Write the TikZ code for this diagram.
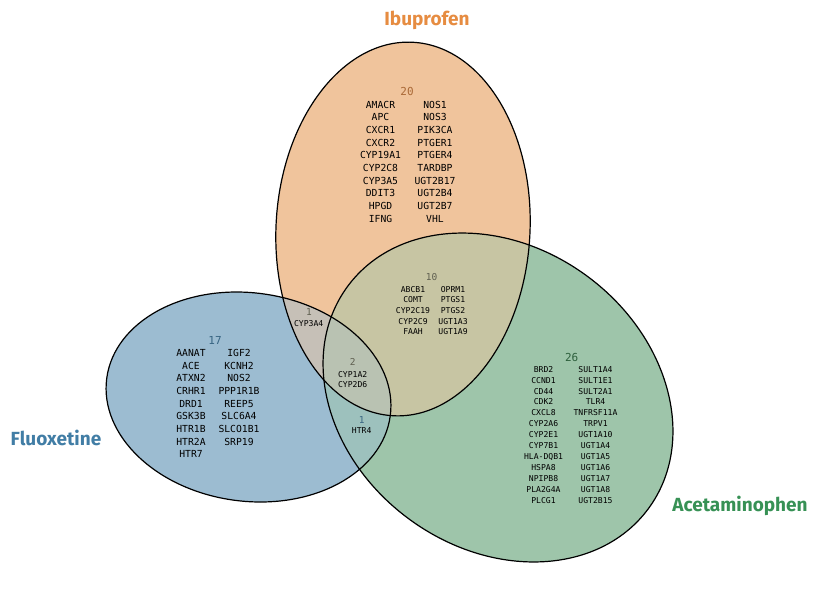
\documentclass[tikz,border=0pt]{standalone}
\usepackage{fontspec}
\setmainfont{Fira Sans}
\setmonofont{DejaVu Sans Mono}

\definecolor{ibuFill}{RGB}{240,196,156}
\definecolor{fluFill}{RGB}{156,188,209}
\definecolor{aceFill}{RGB}{158,197,170}
\colorlet{ibufluFill}{ibuFill!50!fluFill}
\colorlet{ibuaceFill}{ibuFill!50!aceFill}
\colorlet{fluaceFill}{fluFill!50!aceFill}
\colorlet{allFill}{ibufluFill!67!aceFill}
\definecolor{ibuText}{RGB}{230,140,65}
\definecolor{fluText}{RGB}{65,125,165}
\definecolor{aceText}{RGB}{55,145,85}
\definecolor{ibuNum}{RGB}{170,105,55}
\definecolor{fluNum}{RGB}{55,100,130}
\definecolor{aceNum}{RGB}{45,95,60}
\definecolor{midNum}{RGB}{95,95,80}

\newcommand{\ibuPath}{(403,229) circle [x radius=127pt, y radius=187pt, rotate=-3]}
\newcommand{\fluPath}{(248.5,397) circle [x radius=143pt, y radius=104.2pt, rotate=-7.5]}
\newcommand{\acePath}{(498,397.5) circle [x radius=187pt, y radius=150.6pt, rotate=-36.6]}

\begin{document}
\begin{tikzpicture}[x=1pt,y=-1pt,
	genes/.style={font=\ttfamily\fontsize{9.7}{12.67}\selectfont, align=center, inner sep=0pt, anchor=north},
	genesSmall/.style={font=\ttfamily\fontsize{8.1}{#1}\selectfont, align=center, inner sep=0pt, anchor=north},
	genesSmall/.default=10.6,
	numBig/.style={font=\ttfamily\fontsize{11}{11}\selectfont, inner sep=0pt},
	numSmall/.style={font=\ttfamily\fontsize{9.5}{9.5}\selectfont, inner sep=0pt},
	setName/.style={font=\bfseries\fontsize{19}{19}\selectfont, inner sep=0pt}]
	\useasboundingbox (0,0) rectangle (818,600);
	
	%ZONES
	\fill[ibuFill] \ibuPath;
	\fill[fluFill] \fluPath;
	\fill[aceFill] \acePath;
	\begin{scope}
		\clip \ibuPath;
		\fill[ibufluFill] \fluPath;
		\fill[ibuaceFill] \acePath;
	\end{scope}
	\begin{scope}
		\clip \fluPath;
		\fill[fluaceFill] \acePath;
	\end{scope}
	\begin{scope}
		\clip \ibuPath;
		\clip \fluPath;
		\fill[allFill] \acePath;
	\end{scope}
	%CONTOURS
	\draw[line width=1.2pt] \ibuPath;
	\draw[line width=1.2pt] \fluPath;
	\draw[line width=1.2pt] \acePath;
	
	%NOMS
	\node[setName, text=ibuText] (ibu) at (427,20) {Ibuprofen};
	\node[setName, text=fluText] (flu) at (56,438) {Fluoxetine};
	\node[setName, text=aceText] (ace) at (740,506) {Acetaminophen};
	
	%IBUPROFEN SEUL
	\node[numBig, text=ibuNum] (n20) at (407,91) {20};
	\node[genes] (ibuL) at (380.5,100.8) {AMACR\\APC\\CXCR1\\CXCR2\\CYP19A1\\CYP2C8\\CYP3A5\\DDIT3\\HPGD\\IFNG};
	\node[genes] (ibuR) at (435,100.8) {NOS1\\NOS3\\PIK3CA\\PTGER1\\PTGER4\\TARDBP\\UGT2B17\\UGT2B4\\UGT2B7\\VHL};
	%FLUOXETINE SEUL
	\node[numBig, text=fluNum] (n17) at (215,340) {17};
	\node[genes] (fluL) at (191,349.2) {AANAT\\ACE\\ATXN2\\CRHR1\\DRD1\\GSK3B\\HTR1B\\HTR2A\\HTR7};
	\node[genes] (fluR) at (239,349.2) {IGF2\\KCNH2\\NOS2\\PPP1R1B\\REEP5\\SLC6A4\\SLCO1B1\\SRP19};
	%ACETAMINOPHEN SEUL
	\node[numBig, text=aceNum] (n26) at (571.7,357.7) {26};
	\node[genesSmall=10.9] (aceL) at (543.5,366) {BRD2\\CCND1\\CD44\\CDK2\\CXCL8\\CYP2A6\\CYP2E1\\CYP7B1\\HLA-DQB1\\HSPA8\\NPIPB8\\PLA2G4A\\PLCG1};
	\node[genesSmall=10.9] (aceR) at (595.5,366) {SULT1A4\\SULT1E1\\SULT2A1\\TLR4\\TNFRSF11A\\TRPV1\\UGT1A10\\UGT1A4\\UGT1A5\\UGT1A6\\UGT1A7\\UGT1A8\\UGT2B15};
	%IBUPROFEN ET ACETAMINOPHEN
	\node[numSmall, text=midNum] (n10) at (431.7,276.7) {10};
	\node[genesSmall] (iaL) at (413,286) {ABCB1\\COMT\\CYP2C19\\CYP2C9\\FAAH};
	\node[genesSmall] (iaR) at (453,286) {OPRM1\\PTGS1\\PTGS2\\UGT1A3\\UGT1A9};
	%IBUPROFEN ET FLUOXETINE
	\node[numSmall, text=midNum] (n1a) at (309,312.3) {1};
	\node[genesSmall] (ifG) at (308.7,320.5) {CYP3A4};
	%LES TROIS
	\node[numSmall, text=midNum] (n2) at (352.7,361.7) {2};
	\node[genesSmall=10] (allG) at (352.7,371.4) {CYP1A2\\CYP2D6};
	%FLUOXETINE ET ACETAMINOPHEN
	\node[numSmall, text=fluNum] (n1b) at (361.7,420) {1};
	\node[genesSmall] (faG) at (361.7,427.8) {HTR4};
	
\end{tikzpicture}
\end{document}
